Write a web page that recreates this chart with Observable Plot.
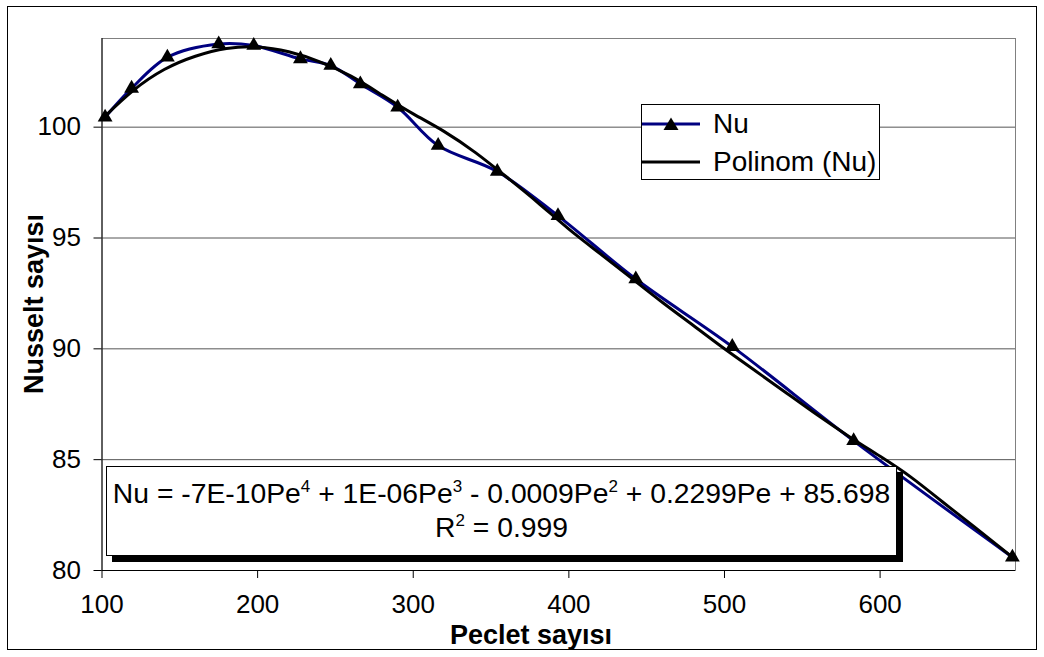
<!DOCTYPE html>
<html>
<head>
<meta charset="utf-8">
<script src="https://cdn.jsdelivr.net/npm/d3@7"></script>
<script src="https://cdn.jsdelivr.net/npm/@observablehq/plot@0.6"></script>
<style>
  body { margin: 0; background: #fff; font-family: "Liberation Sans", Arial, sans-serif; }
  #chart { position: relative; width: 1044px; height: 657px; overflow: hidden; }
  #chart svg { position: absolute; left: 0; top: 0; }
  .border { position: absolute; left: 7px; top: 6px; width: 1030px; height: 644px; border: 1px solid #000; box-sizing: border-box; }
  .ytitle span, .xtitle { font-weight: bold; font-size: 27px; color: #000; white-space: nowrap; }
  .ytitle { position: absolute; left: 48px; top: 304px; width: 0; height: 0; transform: rotate(-90deg); transform-origin: 0 0; }
  .ytitle span { position: absolute; left: 0; top: 0; transform: translate(-50%, -100%); line-height: 27px; }
  .xtitle { position: absolute; left: 531px; top: 628px; transform: translateX(-50%); line-height: 14px; height: 14px; }
  .legend { position: absolute; left: 641px; top: 104px; width: 239px; height: 76px; border: 1px solid #000; box-sizing: border-box; background: #fff; }
  .legend .item { position: absolute; left: 0; height: 32px; font-size: 28px; line-height: 32px; white-space: nowrap; }
  .legend svg { position: absolute; left: 6px; top: 0; }
  .legend .lab { position: absolute; left: 71px; top: 0; }
  .eq { position: absolute; left: 106px; top: 466px; width: 791px; height: 90px; border: 1px solid #000; box-sizing: border-box; background: #fff; box-shadow: 6px 6px 0 #000; text-align: center; font-size: 28.3px; line-height: 34px; padding-top: 9px; color: #000; }
  .eq sup { font-size: 17px; vertical-align: 11px; line-height: 0; }
</style>
</head>
<body>
<div id="chart"></div>
<script>
// Measured Nusselt numbers against Peclet number
const peclet  = [102, 119, 142, 175, 197.5, 227.5, 247, 266, 290, 316, 354, 393, 443, 505, 583, 685];
const nusselt = [100.45, 101.75, 103.15, 103.75, 103.68, 103.08, 102.78, 101.95, 100.9, 99.17, 98.0, 96.0, 93.15, 90.1, 85.85, 80.6];

// 4th-order polynomial trend line (Polinom (Nu)), sampled along the curve
const trendPe = [102, 120, 140, 160, 180, 200, 220, 240, 260, 280, 300, 320, 340, 360, 380, 400, 420, 440, 460, 480, 500, 520, 540, 560, 580, 600, 620, 640, 660, 685];
const trendNu = [100.5, 101.65, 102.6, 103.2, 103.55, 103.62, 103.4, 102.95, 102.3, 101.45, 100.6, 99.8, 98.85, 97.75, 96.6, 95.4, 94.3, 93.2, 92.1, 91.05, 90.0, 89.0, 88.0, 87.0, 86.05, 85.15, 84.2, 83.1, 82.0, 80.6];

// Axis ticks
const xTicks = [100, 200, 300, 400, 500, 600];
const yTicks = [80, 85, 90, 95, 100];

const measured = peclet.map((p, i) => ({pe: p, nu: nusselt[i]}));
const trend = trendPe.map((p, i) => ({pe: p, nu: trendNu[i]}));

const chart = Plot.plot({
  width: 1044,
  height: 657,
  marginLeft: 101.5,
  marginRight: 29,
  marginTop: 38,
  marginBottom: 87,
  x: {domain: [100, 687]},
  y: {domain: [80, 104]},
  style: {fontFamily: '"Liberation Sans", Arial, sans-serif', fontSize: "26px", color: "#000", background: "transparent", overflow: "visible"},
  marks: [
    Plot.gridY(yTicks.slice(1), {stroke: "#555", strokeOpacity: 1}),
    Plot.frame({stroke: "#808080"}),
    Plot.ruleX([100], {stroke: "#000"}),
    Plot.ruleY([80], {stroke: "#000"}),
    Plot.axisX(xTicks, {tickSize: 8, tickPadding: 16, label: null, fontSize: 26}),
    Plot.axisY(yTicks, {tickSize: 8, tickPadding: 13, label: null, fontSize: 26}),
    Plot.line(measured, {x: "pe", y: "nu", stroke: "#000080", strokeWidth: 3, curve: "catmull-rom"}),
    Plot.line(trend, {x: "pe", y: "nu", stroke: "#000", strokeWidth: 3, curve: "natural"}),
    Plot.dot(measured, {x: "pe", y: "nu", symbol: "triangle", r: 5.5, fill: "#000", stroke: "none"})
  ]
});

const root = document.getElementById("chart");
root.appendChild(chart);

root.insertAdjacentHTML("beforeend", `
  <div class="border"></div>
  <div class="ytitle"><span>Nusselt sayısı</span></div>
  <div class="xtitle">Peclet sayısı</div>
  <div class="legend">
    <div class="item" style="top:3px;width:237px">
      <svg width="60" height="32"><line x1="0" y1="16" x2="58" y2="16" stroke="#000080" stroke-width="3"/><path d="M29,9.5 L36.5,22 L21.5,22 Z" fill="#000"/></svg>
      <span class="lab">Nu</span>
    </div>
    <div class="item" style="top:41px;width:237px">
      <svg width="60" height="32"><line x1="0" y1="16" x2="58" y2="16" stroke="#000" stroke-width="3"/></svg>
      <span class="lab">Polinom (Nu)</span>
    </div>
  </div>
  <div class="eq">
    <div>Nu = -7E-10Pe<sup>4</sup> + 1E-06Pe<sup>3</sup> - 0.0009Pe<sup>2</sup> + 0.2299Pe + 85.698</div>
    <div>R<sup>2</sup> = 0.999</div>
  </div>
`);
</script>
</body>
</html>
